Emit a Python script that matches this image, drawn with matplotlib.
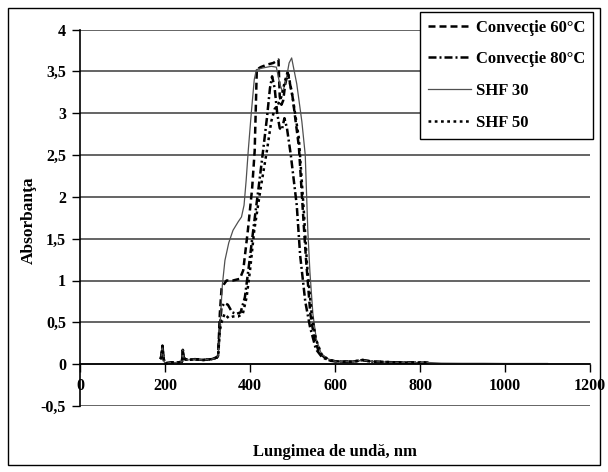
import matplotlib
matplotlib.use("Agg")
import matplotlib.pyplot as plt
from matplotlib.patches import Rectangle

# Shared UV baseline (nm, absorbance) before the absorption band
uv_wl = [190, 192, 194, 196, 198, 200, 215, 230, 240, 242, 244, 247, 255, 270, 290, 310, 322]
uv_abs = [0.06, 0.12, 0.22, 0.10, 0.03, 0.01, 0.02, 0.02, 0.03, 0.17, 0.08, 0.06, 0.05, 0.06, 0.05, 0.06, 0.08]

# Long-wavelength tail
tail_wl = [600, 620, 640, 655, 665, 675, 690, 720, 760, 800, 820]
tail_abs = [0.035, 0.03, 0.03, 0.04, 0.05, 0.04, 0.03, 0.025, 0.02, 0.018, 0.02]
tail_ext_wl = [850, 900, 950, 1000, 1050, 1100]
tail_ext_abs = [0.012, 0.01, 0.01, 0.008, 0.008, 0.008]

# Convecţie 60°C
conv60_wl = [325, 329, 333, 338, 345, 360, 376, 384, 395, 405, 411, 416, 425, 440, 455, 467,
             470, 474, 478, 483, 489, 500, 515, 526, 532, 542, 550, 562, 580]
conv60_abs = [0.10, 0.60, 0.90, 0.95, 1.00, 1.00, 1.02, 1.12, 1.60, 2.10, 2.55, 3.52, 3.55, 3.58, 3.60, 3.64,
              3.20, 3.10, 3.15, 3.35, 3.48, 3.20, 2.60, 1.70, 1.24, 0.60, 0.35, 0.14, 0.06]

# Convecţie 80°C
conv80_wl = [325, 329, 333, 340, 348, 358, 368, 378, 388, 398, 410, 420, 431, 440, 447, 452,
             458, 464, 470, 475, 481, 487, 496, 510, 518, 530, 541, 555, 570, 590]
conv80_abs = [0.10, 0.45, 0.68, 0.73, 0.71, 0.62, 0.60, 0.62, 0.80, 1.20, 1.70, 2.10, 2.56, 2.95, 3.30, 3.44,
              3.30, 3.00, 2.82, 2.80, 2.94, 2.82, 2.50, 1.90, 1.30, 0.75, 0.45, 0.18, 0.08, 0.04]

# SHF 30
shf30_wl = [325, 328, 331, 335, 341, 350, 360, 372, 380, 386, 391, 396, 403, 410, 415, 430, 450,
            462, 470, 477, 485, 492, 498, 510, 522, 530, 536, 541, 548, 556, 568, 585]
shf30_abs = [0.10, 0.30, 0.60, 0.95, 1.24, 1.45, 1.60, 1.70, 1.76, 1.90, 2.20, 2.56, 3.00, 3.40, 3.52, 3.54, 3.56,
             3.55, 3.35, 3.25, 3.40, 3.60, 3.66, 3.35, 2.90, 2.50, 1.60, 1.10, 0.60, 0.30, 0.12, 0.06]

# SHF 50
shf50_wl = [325, 329, 333, 340, 350, 360, 372, 383, 392, 400, 410, 425, 440, 450, 458, 466, 474,
            482, 489, 500, 515, 527, 534, 545, 555, 568, 585]
shf50_abs = [0.10, 0.40, 0.50, 0.60, 0.55, 0.57, 0.57, 0.60, 0.80, 1.12, 1.60, 2.10, 2.56, 2.90, 3.05, 3.10, 3.20,
             3.38, 3.50, 3.20, 2.70, 1.80, 1.20, 0.60, 0.30, 0.12, 0.05]

labels = ["Convecţie 60°C", "Convecţie 80°C", "SHF 30", "SHF 50"]
x_ticks = [0, 200, 400, 600, 800, 1000, 1200]
y_ticks = [-0.5, 0, 0.5, 1, 1.5, 2, 2.5, 3, 3.5, 4]
y_tick_labels = ["-0,5", "0", "0,5", "1", "1,5", "2", "2,5", "3", "3,5", "4"]

plt.rcParams["font.family"] = ["Liberation Serif", "DejaVu Serif"]
plt.rcParams["font.weight"] = "bold"

W, H = 608, 472
fig = plt.figure(figsize=(W / 100, H / 100), dpi=100)
fig.patches.append(Rectangle((8 / W, 7 / H), 592 / W, 457 / H, transform=fig.transFigure,
                             fill=False, edgecolor="black", linewidth=1.0))

x0, x1, ytop, ybot = 80, 590, 29.5, 406
ax = fig.add_axes([x0 / W, 1 - ybot / H, (x1 - x0) / W, (ybot - ytop) / H])
ax.set_xlim(0, 1200)
ax.set_ylim(-0.5, 4)


def full(mid_wl, mid_abs, extended=False):
    wl = uv_wl + mid_wl + tail_wl + (tail_ext_wl if extended else [])
    ab = uv_abs + mid_abs + tail_abs + (tail_ext_abs if extended else [])
    return wl, ab


ax.yaxis.grid(True, color="#4a4a4a", linewidth=1.2)
ax.set_axisbelow(True)

w, a = full(conv60_wl, conv60_abs)
ax.plot(w, a, color="black", lw=1.8, linestyle=(0, (2.8, 1.6)), label=labels[0])
w, a = full(conv80_wl, conv80_abs)
ax.plot(w, a, color="black", lw=1.8, linestyle=(0, (3.2, 1.2, 0.8, 1.2)), label=labels[1])
w, a = full(shf30_wl, shf30_abs, extended=True)
ax.plot(w, a, color="#505050", lw=0.9, linestyle="-", label=labels[2])
w, a = full(shf50_wl, shf50_abs)
ax.plot(w, a, color="black", lw=1.8, linestyle=(0, (1.1, 1.4)), label=labels[3])

for s in ["top", "right"]:
    ax.spines[s].set_visible(False)
ax.spines["bottom"].set_position(("data", 0))
ax.spines["bottom"].set_linewidth(1.2)
ax.spines["left"].set_linewidth(1.2)

ax.set_xticks(x_ticks)
ax.set_xticklabels([str(t) for t in x_ticks], fontsize=11.5, fontweight="bold")
ax.set_yticks(y_ticks)
ax.set_yticklabels(y_tick_labels, fontsize=11.5, fontweight="bold")
ax.tick_params(axis="both", direction="out", length=6, width=1, color="black", pad=4)

fig.text(29 / W, 1 - 220 / H, "Absorbanţa", rotation=90, ha="center", va="center",
         fontsize=12.5, fontweight="bold")
fig.text(335 / W, 1 - 452 / H, "Lungimea de undă, nm", ha="center", va="center",
         fontsize=12, fontweight="bold")

leg = ax.legend(loc="upper right", bbox_to_anchor=(593 / W, 1 - 12 / H), bbox_transform=fig.transFigure,
                borderaxespad=0, frameon=True, fancybox=False, framealpha=1, edgecolor="black",
                prop={"size": 12, "weight": "bold"}, handlelength=2.6, handletextpad=0.3,
                labelspacing=0.95, borderpad=0.45)
leg.get_frame().set_linewidth(1.0)

fig.savefig("out.png", dpi=100)
